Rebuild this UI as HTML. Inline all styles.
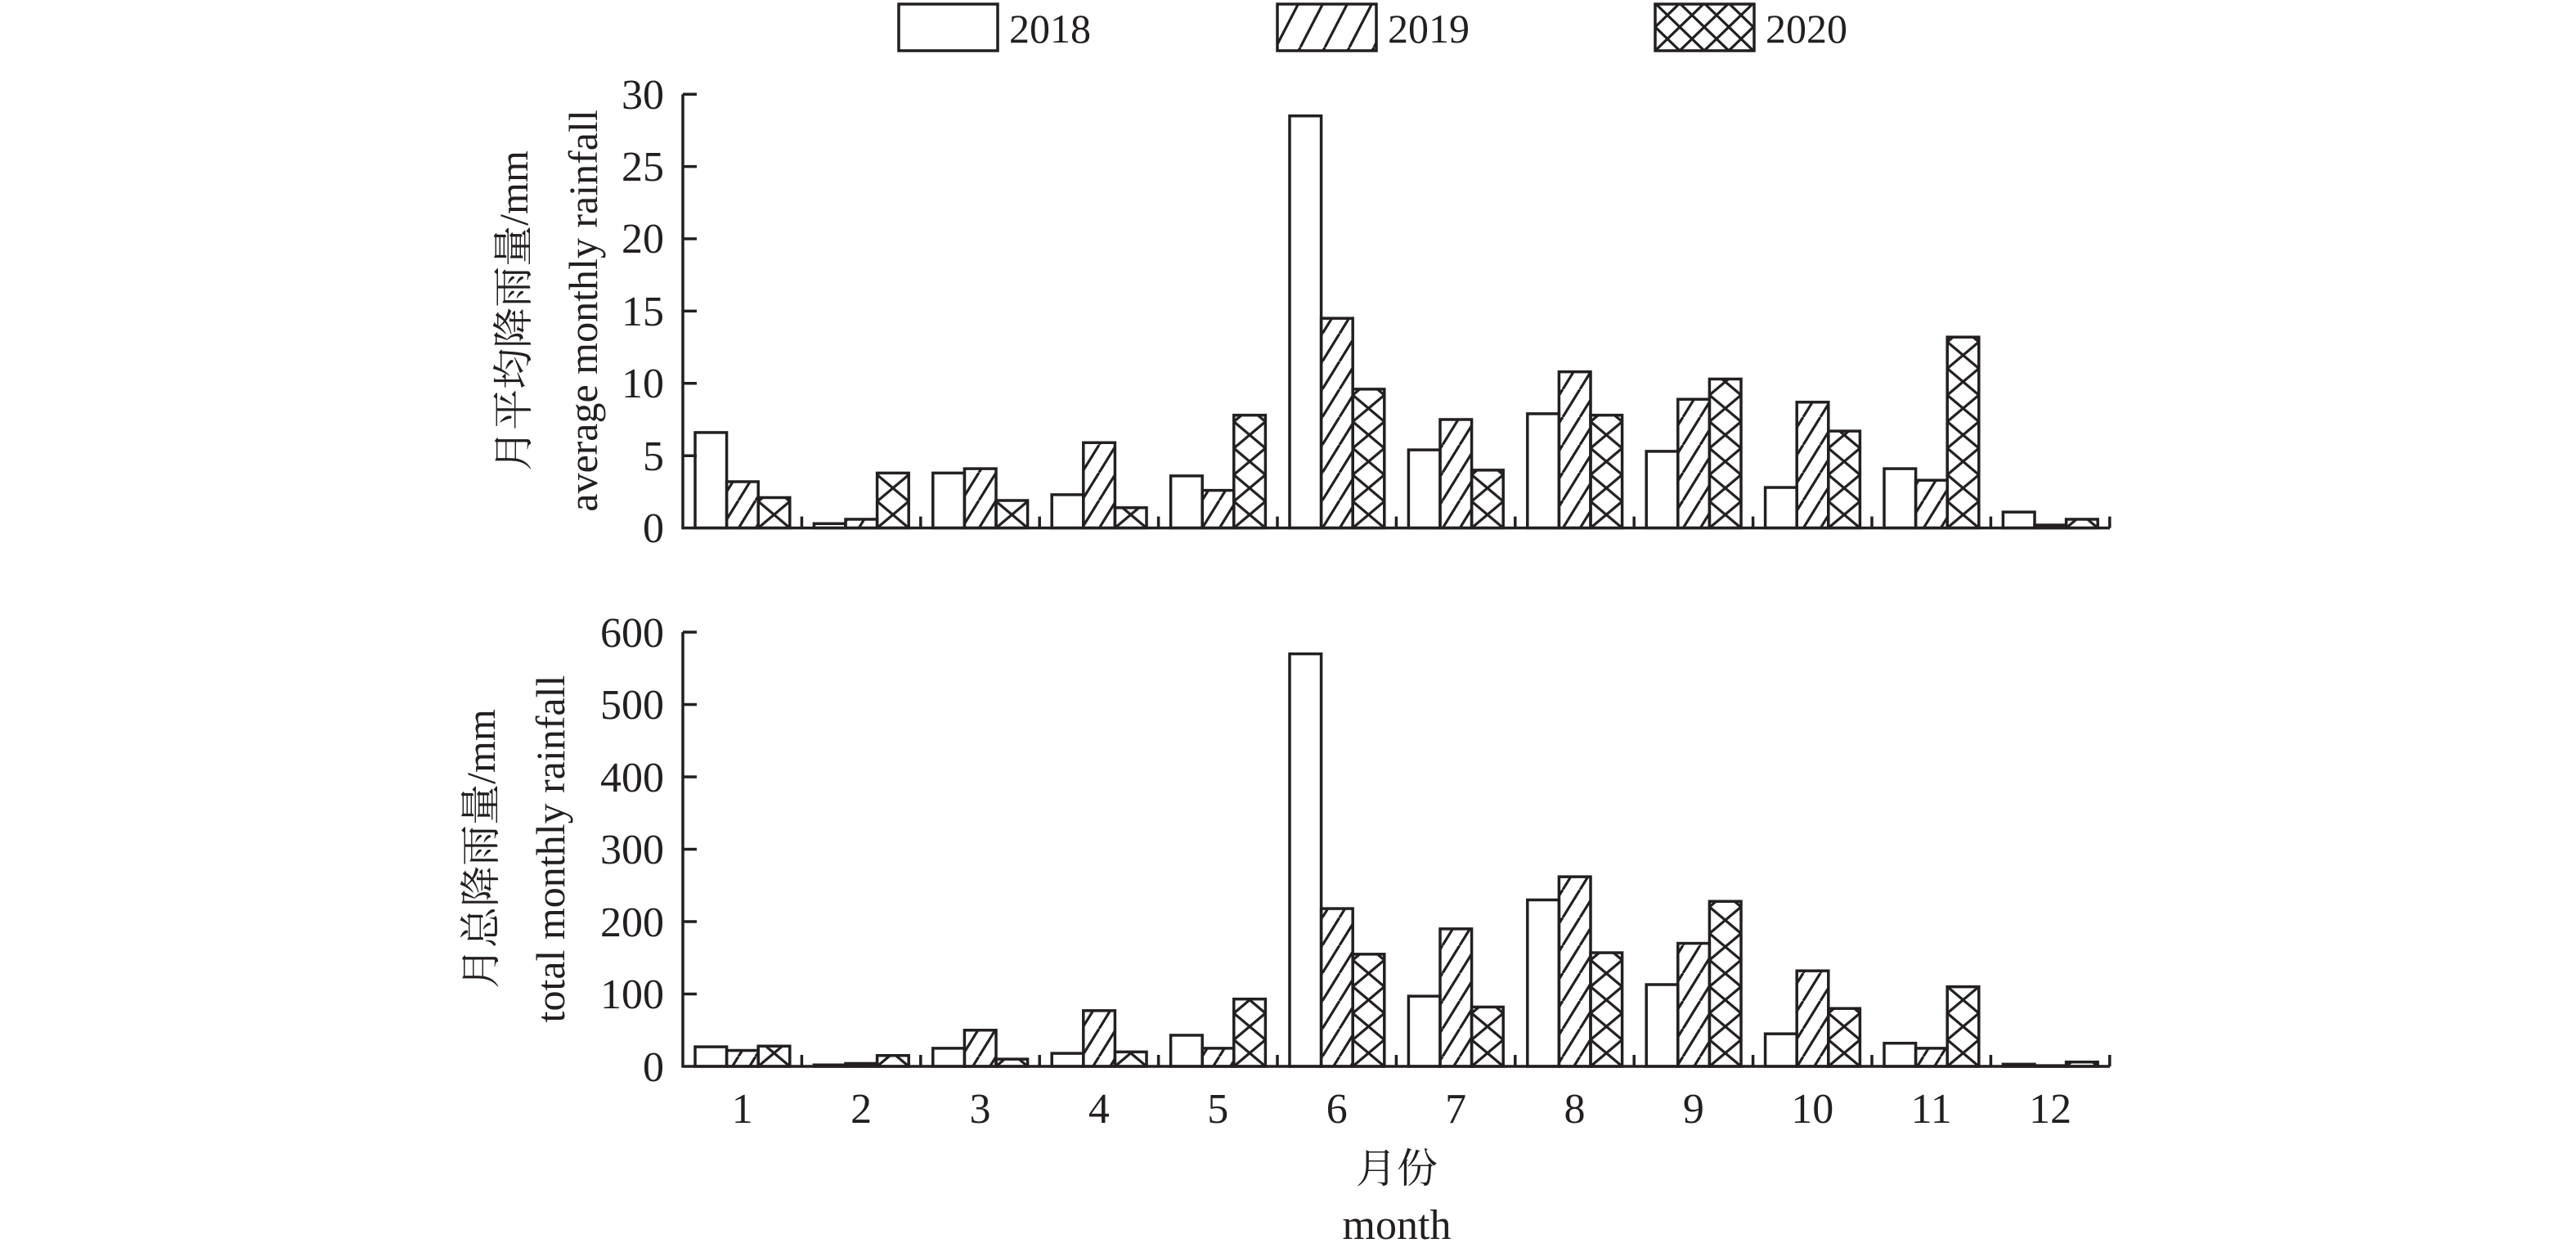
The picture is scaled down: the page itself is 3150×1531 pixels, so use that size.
<!DOCTYPE html>
<html><head><meta charset="utf-8"><style>
html,body{margin:0;padding:0;background:#fff;}
svg{display:block;}
text{font-family:"Liberation Serif","Noto Serif CJK SC",serif;fill:#231f20;}
</style></head><body>
<svg id="s" width="3150" height="1531" viewBox="0 0 3150 1531" xmlns="http://www.w3.org/2000/svg">
<defs>
<pattern id="hatch" patternUnits="userSpaceOnUse" width="21" height="34">
<path d="M-21,34 L0,0 M0,34 L21,0 M21,34 L42,0" stroke="#231f20" stroke-width="3.2"/>
</pattern>
<pattern id="lh" patternUnits="userSpaceOnUse" x="0" y="0" width="30" height="58">
<path d="M-30,58 L0,0 M0,58 L30,0 M30,58 L60,0" stroke="#231f20" stroke-width="3.2"/>
</pattern>
<pattern id="lx" patternUnits="userSpaceOnUse" x="2024" y="4" width="30" height="29">
<path d="M0,0 L30,29 M30,0 L0,29" stroke="#231f20" stroke-width="3.2"/>
</pattern>
</defs>
<!-- legend -->
<rect x="1099" y="5" width="121" height="57" fill="#fff" stroke="#231f20" stroke-width="3.5"/>
<text x="1234" y="52" font-size="50">2018</text>
<rect x="1562" y="5" width="121" height="57" fill="url(#lh)" stroke="#231f20" stroke-width="3.5"/>
<text x="1697" y="52" font-size="50">2019</text>
<rect x="2024" y="5" width="121" height="57" fill="url(#lx)" stroke="#231f20" stroke-width="3.5"/>
<text x="2159" y="52" font-size="50">2020</text>

<g font-size="52" text-anchor="end">
<text x="812" y="663">0</text>
<text x="812" y="575">5</text>
<text x="812" y="486">10</text>
<text x="812" y="398">15</text>
<text x="812" y="309">20</text>
<text x="812" y="221">25</text>
<text x="812" y="133">30</text>
</g>
<g font-size="52" text-anchor="end">
<text x="812" y="1322">0</text>
<text x="812" y="1233">100</text>
<text x="812" y="1145">200</text>
<text x="812" y="1056">300</text>
<text x="812" y="968">400</text>
<text x="812" y="879">500</text>
<text x="812" y="791">600</text>
</g>
<text transform="translate(645,380) rotate(-90)" font-size="50" text-anchor="middle">月平均降雨量/mm</text>
<text transform="translate(730,380) rotate(-90)" font-size="50" text-anchor="middle">average monthly rainfall</text>
<text transform="translate(605,1038) rotate(-90)" font-size="50" text-anchor="middle">月总降雨量/mm</text>
<text transform="translate(690,1038) rotate(-90)" font-size="50" text-anchor="middle">total monthly rainfall</text>
<g font-size="52" text-anchor="middle">
<text x="907.7" y="1373">1</text>
<text x="1053.1" y="1373">2</text>
<text x="1198.5" y="1373">3</text>
<text x="1343.9" y="1373">4</text>
<text x="1489.3" y="1373">5</text>
<text x="1634.7" y="1373">6</text>
<text x="1780.1" y="1373">7</text>
<text x="1925.5" y="1373">8</text>
<text x="2070.9" y="1373">9</text>
<text x="2216.3" y="1373">10</text>
<text x="2361.7" y="1373">11</text>
<text x="2507.1" y="1373">12</text>
</g>
<text x="1708" y="1446" font-size="50" text-anchor="middle">月份</text>
<text x="1708" y="1515" font-size="52" text-anchor="middle">month</text>
<g id="bars"></g>
<g id="axes" stroke="#231f20" stroke-width="3.5" fill="none"></g>
</svg>
<script>
(function(){
var NS="http://www.w3.org/2000/svg";
var dTop=[[6.6,3.2,2.1],[0.3,0.6,3.8],[3.8,4.1,1.9],[2.3,5.9,1.4],[3.6,2.6,7.8],[28.5,14.5,9.6],[5.4,7.5,4.0],[7.9,10.8,7.8],[5.3,8.9,10.3],[2.8,8.7,6.7],[4.1,3.3,13.2],[1.1,0.2,0.6]];
var dBot=[[27,22,28],[2,4,15],[25,50,10],[18,77,20],[43,25,93],[570,218,155],[97,190,82],[230,262,157],[113,170,228],[45,132,80],[32,25,110],[3,1,6]];
var X0=835,G=145.4,BW=38.6,OFF=15;
var svg=document.getElementById('s'),defs=svg.querySelector('defs'),bars=document.getElementById('bars'),axes=document.getElementById('axes');
var pid=0;
function bar(x,y0,h,k){
  var r=document.createElementNS(NS,'rect');
  r.setAttribute('x',x);r.setAttribute('y',y0-h);r.setAttribute('width',BW);r.setAttribute('height',Math.max(h,0.5));
  r.setAttribute('stroke','#231f20');r.setAttribute('stroke-width','3.5');
  if(k==0)r.setAttribute('fill','#fff');
  else if(k==1)r.setAttribute('fill','url(#hatch)');
  else{
    var p=document.createElementNS(NS,'pattern');var id='x'+(pid++);
    p.setAttribute('id',id);p.setAttribute('patternUnits','userSpaceOnUse');
    p.setAttribute('x',x);p.setAttribute('y',y0);p.setAttribute('width',BW);p.setAttribute('height',32.5);
    var pa=document.createElementNS(NS,'path');
    pa.setAttribute('d','M0,0 L'+BW+',32.5 M'+BW+',0 L0,32.5');pa.setAttribute('stroke','#231f20');pa.setAttribute('stroke-width','3.2');
    p.appendChild(pa);defs.appendChild(p);
    r.setAttribute('fill','url(#'+id+')');
  }
  bars.appendChild(r);
}
function line(d){var p=document.createElementNS(NS,'path');p.setAttribute('d',d);axes.appendChild(p);}
function panel(data,y0,scale,ytop,n){
  for(var i=0;i<12;i++)for(var k=0;k<3;k++)bar(X0+i*G+OFF+k*BW,y0,data[i][k]*scale,k);
  line('M'+X0+','+ytop+' L'+X0+','+y0+' L2580,'+y0);
  for(var j=1;j<=n;j++){var y=y0-(y0-ytop)*j/n;line('M'+X0+','+y+' L'+(X0+17)+','+y);}
  for(var i=1;i<=12;i++){var x=X0+i*G;line('M'+x+','+y0+' L'+x+','+(y0-14));}
}
panel(dTop,645.6,17.68,115.2,6);
panel(dBot,1304,0.885,773,6);
})();
</script>
</body></html>
